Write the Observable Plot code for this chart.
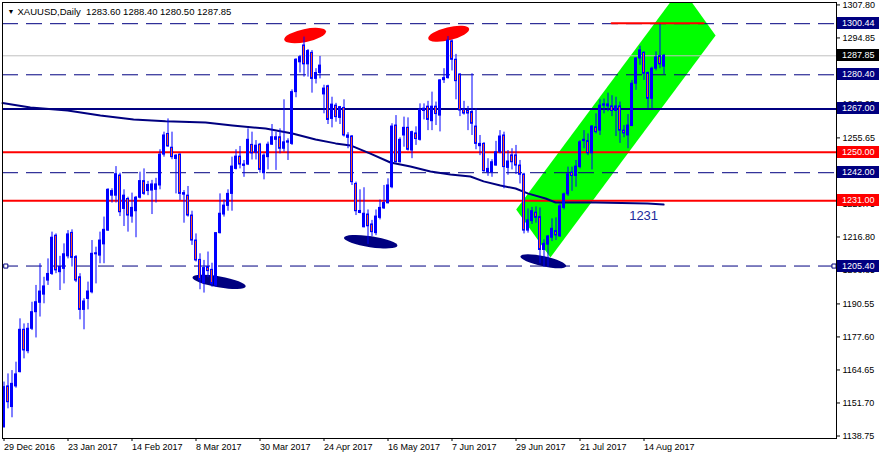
<!DOCTYPE html>
<html><head><meta charset="utf-8">
<script src="https://cdn.jsdelivr.net/npm/d3@7"></script>
<script src="https://cdn.jsdelivr.net/npm/@observablehq/plot@0.6"></script>
<style>body{margin:0;background:#fff}#chart svg{display:block}</style>
</head><body><div id="chart"></div>
<script>
// ---- Daily OHLC (bar index 0 = 29 Dec 2016) ----
const opens = [1142.2,1158.2,1150.1,1158.2,1163.8,1180.4,1172.0,1180.8,1187.3,1191.0,1194.2,1199.7,1202.3,1217.3,1203.0,1204.3,1209.2,1218.4,1208.9,1201.0,
1188.2,1192.5,1195.1,1210.0,1209.5,1213.9,1219.3,1233.0,1233.0,1240.9,1227.8,1231.7,1224.8,1226.9,1232.2,1238.7,1234.8,1235.0,1235.3,1237.0,
1249.1,1257.2,1251.8,1247.4,1249.1,1233.4,1233.0,1225.2,1215.4,1207.8,1198.7,1205.0,1203.9,1197.8,1218.3,1225.6,1229.0,1233.7,1243.5,1248.3,
1244.7,1245.2,1252.9,1249.9,1253.0,1241.8,1248.1,1253.0,1255.9,1255.9,1251.4,1253.8,1253.3,1273.6,1285.3,1291.9,1284.5,1289.0,1278.8,1281.1,
1272.7,1275.9,1263.1,1268.3,1263.5,1267.4,1255.7,1256.2,1237.6,1226.2,1220.6,1225.6,1221.7,1218.3,1224.3,1228.0,1230.0,1236.3,1260.5,1246.1,
1256.6,1259.6,1250.7,1257.4,1254.9,1266.2,1267.9,1262.2,1267.9,1264.4,1278.3,1279.1,1293.5,1286.3,1280.5,1266.7,1266.2,1265.8,1260.1,1252.4,
1253.3,1242.2,1242.2,1244.8,1250.0,1256.6,1243.9,1248.8,1248.8,1244.8,1241.3,1219.3,1223.0,1226.3,1224.6,1211.7,1213.8,1216.5,1219.1,1217.0,
1228.2,1233.5,1242.0,1240.7,1244.2,1254.4,1254.4,1249.6,1259.8,1258.5,1268.3,1268.8,1268.0,1266.2,1268.0,1258.5,1256.6,1260.3,1276.9,1286.8,
1289.0,1281.1,1271.0,1282.8,1287.7,1283.6];
const highs = [1159.9,1163.1,1164.4,1167.7,1184.7,1182.7,1182.9,1191.2,1197.8,1206.3,1201.0,1208.2,1218.7,1218.0,1209.2,1214.1,1219.3,1219.6,1209.5,1202.4,
1192.6,1199.1,1215.4,1212.8,1218.7,1224.6,1235.7,1235.7,1244.4,1241.8,1235.3,1232.4,1234.0,1232.7,1242.2,1243.5,1238.6,1239.0,1239.8,1251.0,
1257.9,1263.1,1257.9,1249.1,1249.4,1235.0,1236.6,1226.9,1218.0,1210.2,1207.6,1210.9,1206.5,1218.5,1233.7,1231.3,1235.3,1248.1,1251.0,1252.3,
1246.8,1259.2,1257.9,1254.6,1253.5,1249.4,1254.0,1260.9,1257.9,1259.2,1270.6,1255.3,1274.5,1286.7,1288.0,1295.2,1290.3,1289.9,1282.8,1287.6,
1276.3,1276.3,1271.6,1269.2,1268.0,1270.6,1257.7,1256.6,1238.3,1235.3,1236.1,1227.4,1223.3,1227.4,1231.3,1237.0,1239.6,1261.2,1264.4,1255.7,
1263.8,1263.5,1258.3,1260.0,1269.0,1269.0,1270.0,1273.6,1269.7,1278.5,1282.8,1295.4,1294.1,1288.4,1280.8,1270.0,1268.0,1280.8,1267.1,1256.6,
1253.8,1247.5,1247.1,1254.3,1258.5,1257.9,1250.7,1251.4,1252.7,1246.8,1241.8,1227.8,1228.4,1228.6,1228.2,1215.7,1217.4,1223.9,1224.3,1229.8,
1234.0,1244.2,1244.2,1246.8,1254.6,1258.5,1257.2,1260.5,1265.1,1270.6,1270.9,1273.2,1272.2,1271.6,1269.7,1260.5,1264.8,1278.2,1287.1,1291.6,
1289.4,1281.5,1283.4,1289.4,1300.1,1288.4];
const lows = [1141.8,1149.4,1145.9,1157.5,1163.5,1169.0,1171.0,1180.1,1177.2,1185.4,1190.6,1197.8,1201.7,1202.4,1195.8,1198.4,1208.2,1205.0,1198.9,1184.3,
1180.4,1188.2,1194.5,1198.4,1206.3,1206.3,1219.0,1230.1,1230.1,1224.8,1220.9,1218.7,1222.2,1216.5,1231.7,1233.1,1233.0,1225.6,1230.1,1235.3,
1248.1,1252.0,1247.1,1233.7,1231.1,1222.2,1224.6,1213.5,1207.0,1196.1,1194.8,1200.8,1197.1,1197.1,1218.0,1224.6,1226.9,1226.9,1243.1,1243.5,
1240.2,1244.8,1247.0,1247.0,1241.8,1239.2,1243.1,1252.7,1242.9,1249.4,1250.1,1246.8,1252.7,1271.4,1281.1,1279.5,1279.5,1273.2,1276.8,1278.8,
1265.1,1260.9,1259.6,1261.8,1260.9,1256.0,1251.4,1237.0,1225.2,1225.9,1220.4,1213.9,1217.0,1217.3,1223.5,1227.6,1229.8,1235.7,1245.8,1245.8,
1252.0,1250.5,1247.5,1252.7,1254.4,1262.7,1258.5,1258.5,1260.5,1258.0,1277.0,1278.7,1281.9,1270.6,1264.0,1264.6,1258.5,1256.6,1251.0,1248.7,
1242.2,1240.6,1240.2,1244.6,1249.4,1235.7,1241.0,1243.1,1241.3,1237.6,1218.0,1218.3,1221.7,1222.2,1206.3,1205.0,1205.0,1215.0,1215.4,1216.7,
1227.4,1232.7,1234.7,1236.3,1243.5,1251.4,1248.7,1243.1,1257.2,1256.6,1265.1,1265.9,1264.0,1256.2,1253.5,1255.7,1251.4,1260.1,1274.3,1284.1,
1278.2,1267.1,1267.1,1281.9,1282.8,1280.5];
const closes = [1157.9,1152.0,1159.2,1162.9,1180.4,1172.3,1180.8,1187.3,1191.2,1195.4,1197.4,1202.3,1216.5,1203.7,1205.0,1210.0,1217.8,1208.6,1199.7,1188.2,
1191.5,1195.4,1210.2,1210.4,1215.4,1219.6,1235.3,1234.8,1241.4,1226.5,1233.0,1225.2,1228.2,1232.2,1238.7,1233.7,1237.2,1237.4,1237.4,1249.1,
1256.6,1252.3,1248.1,1248.7,1233.7,1234.0,1225.2,1215.4,1207.6,1200.0,1204.6,1203.4,1198.4,1218.3,1225.9,1229.1,1233.7,1244.4,1248.3,1245.2,
1245.2,1254.9,1249.6,1252.6,1243.1,1248.7,1253.0,1255.9,1254.9,1251.4,1253.9,1254.3,1273.6,1286.3,1287.3,1284.5,1289.7,1278.8,1281.1,1284.0,
1275.0,1262.7,1268.7,1263.8,1267.7,1256.6,1256.6,1238.3,1226.9,1227.0,1225.9,1221.0,1218.7,1224.8,1228.2,1230.1,1237.0,1260.1,1246.1,1254.9,
1259.6,1251.0,1257.9,1255.2,1266.7,1267.1,1262.7,1267.9,1265.0,1278.2,1279.1,1293.8,1286.3,1277.9,1266.4,1265.2,1265.2,1261.2,1253.3,1253.3,
1242.6,1243.5,1246.1,1250.0,1256.2,1244.2,1246.4,1246.1,1244.8,1241.2,1219.3,1223.3,1226.9,1224.3,1211.7,1214.1,1217.0,1220.0,1217.4,1228.8,
1233.5,1241.4,1240.7,1244.4,1253.9,1254.9,1249.6,1260.1,1257.9,1268.3,1268.8,1268.0,1266.2,1268.0,1258.5,1257.4,1260.5,1276.9,1286.8,1290.0,
1280.8,1271.0,1282.8,1287.2,1284.5,1287.85];

// ---- date axis ----
const dateTickIdx = [0,16,32,48,64,80,96,112,128,144,160];
const dateLabels = ["29 Dec 2016","23 Jan 2017","14 Feb 2017","8 Mar 2017","30 Mar 2017","24 Apr 2017","16 May 2017","7 Jun 2017","29 Jun 2017","21 Jul 2017","14 Aug 2017"];

// ---- price axis (labels fully hidden behind price tags omitted) ----
const priceTicks = [1138.75,1151.70,1164.65,1177.60,1190.55,1203.85,1216.80,1229.75,1255.65,1268.95,1294.85,1307.80];

// ---- moving average (bar index, price) ----
const maIdx = [-0.375,6.6,15.9,24.1,32.4,40.4,50.4,57.1,65.4,72.1,77.9,82.9,86.6,91.6,96.6,101.6,106.6,111.6,116.6,119.9,124.1,127.9,131.1,135.4,137.9,147.9,160.9,164.9];
const maVal = [1269.3,1267.6,1266.4,1264.4,1262.9,1262.2,1261.7,1260.5,1259.3,1257.4,1255.0,1253.5,1252.7,1249.5,1246.0,1244.4,1242.5,1241.3,1240.5,1238.6,1237.0,1235.8,1233.8,1231.9,1230.3,1230.3,1229.9,1229.5];

// ---- horizontal levels ----
const dashedLevels = [1300.44, 1280.40, 1242.00, 1205.40];
const solidLevels = [1267.00];
const redLevels = [1250.00, 1231.00];
const bidPrice = 1287.85;
const titleSymbol = "XAUUSD,Daily";
const titleOHLC = ["1283.60","1288.40","1280.50","1287.85"];

// ---- drawn objects ----
const channelIdx = [128.05, 136.6, 177.9, 169.3, 128.05];
const channelPrice = [1227.6, 1208.75, 1295.8, 1314.6, 1227.6];
const topLineIdx = [151.9, 174.9];
const topLinePrice = [1300.6, 1300.6];
const redEllipseIdx = [75.4, 111.3];
const redEllipsePrice = [1295.6, 1296.3];
const navyEllipseIdx = [53.9, 91.8, 134.95];
const navyEllipsePrice = [1199.0, 1214.75, 1207.1];
const noteIdx = 159.9, notePrice = 1225.2, noteText = "1231";
const handleIdx = [0.45, 207.5];

// ---- build tables ----
const candles = opens.map((o, i) => ({i, o, h: highs[i], l: lows[i], c: closes[i]}));
const bulls = candles.filter(d => d.c >= d.o);
const bears = candles.filter(d => d.c < d.o);
const ma = maIdx.map((x, k) => ({x, y: maVal[k]}));
const channel = channelIdx.map((x, k) => ({x, y: channelPrice[k]}));
const topLine = topLineIdx.map((x, k) => ({x, y: topLinePrice[k]}));
const handles = handleIdx.map(x => ({x, y: 1205.40}));

const NAVY = "#000080", BLUE = "#0000ff", RED = "#ff0000", BEAR = "#ff5522";
const FONT = "'Liberation Sans', Arial, sans-serif";

function ellipses(idx, price, rx, ry, angles, color) {
  return (index, scales) => {
    const g = d3.create("svg:g");
    idx.forEach((ci, k) => {
      const cx = scales.x(ci), cy = scales.y(price[k]);
      g.append("ellipse").attr("rx", rx[k]).attr("ry", ry[k])
        .attr("transform", `translate(${cx},${cy}) rotate(${angles[k]})`)
        .attr("fill", color);
    });
    return g.node();
  };
}

const tags = [
  {v: 1300.44, bg: NAVY}, {v: bidPrice, bg: "#000000"}, {v: 1280.40, bg: NAVY},
  {v: 1267.00, bg: NAVY}, {v: 1250.00, bg: RED}, {v: 1242.00, bg: NAVY},
  {v: 1231.00, bg: RED}, {v: 1205.40, bg: NAVY}
];
function priceTags(index, scales, values, dims) {
  const g = d3.create("svg:g");
  const x0 = dims.width - dims.marginRight + 1;
  for (const t of tags) {
    const y = Math.round(scales.y(t.v));
    g.append("rect").attr("x", x0).attr("y", y - 6).attr("width", 42).attr("height", 12).attr("fill", t.bg);
    g.append("text").attr("x", x0 + 5).attr("y", y).attr("dy", "0.35em")
      .attr("text-anchor", "start")
      .attr("fill", "white").attr("font-size", 9).attr("font-family", FONT).text(t.v.toFixed(2));
  }
  return g.node();
}

const chart = Plot.plot({
  width: 879, height: 459,
  marginLeft: 2, marginTop: 2, marginRight: 43, marginBottom: 21,
  style: {fontFamily: FONT, fontSize: "9px", background: "white", color: "black"},
  x: {type: "linear", domain: [-0.375, 208.125]},
  y: {type: "linear", domain: [1137.77, 1308.75]},
  marks: [
    Plot.line(channel, {x: "x", y: "y", fill: "#00ff00", stroke: "none", clip: true, curve: "linear"}),
    Plot.ruleY([bidPrice], {stroke: "#c0c0c0", strokeWidth: 1}),
    Plot.ruleY(dashedLevels, {stroke: NAVY, strokeWidth: 1, strokeDasharray: "16,8"}),
    Plot.ruleY(solidLevels, {stroke: NAVY, strokeWidth: 2}),
    Plot.ruleY(redLevels, {stroke: RED, strokeWidth: 2}),
    Plot.line(ma, {x: "x", y: "y", stroke: NAVY, strokeWidth: 2}),
    Plot.line(topLine, {x: "x", y: "y", stroke: RED, strokeWidth: 2}),
    ellipses(redEllipseIdx, redEllipsePrice, [21.3, 21], [6.5, 6.5], [-11.7, -13.7], RED),
    ellipses(navyEllipseIdx, navyEllipsePrice, [27, 27, 23.4], [5.5, 5.5, 5], [9.9, 8.5, 12.3], NAVY),
    Plot.ruleX(candles, {x: "i", y1: "l", y2: "h", stroke: BLUE, strokeWidth: 1}),
    Plot.rect(bulls, {x1: d => d.i - 0.25, x2: d => d.i + 0.25, y1: "o", y2: "c", fill: BLUE, stroke: BLUE, strokeWidth: 1}),
    Plot.rect(bears, {x1: d => d.i - 0.25, x2: d => d.i + 0.25, y1: "o", y2: "c", fill: BEAR, stroke: BLUE, strokeWidth: 1}),
    Plot.text([noteText], {x: noteIdx, y: notePrice, text: d => d, fill: "#1c2a9a", fontSize: 13, fontFamily: FONT}),
    Plot.dot(handles, {x: "x", y: "y", symbol: "square", r: 2.3, fill: "white", stroke: NAVY, strokeWidth: 1}),
    Plot.frame({stroke: "black"}),
    Plot.axisX({ticks: dateTickIdx, tickFormat: d => dateLabels[dateTickIdx.indexOf(d)], tickSize: 3, tickPadding: 2, textAnchor: "start", label: null, fontSize: 9}),
    Plot.axisY({anchor: "right", ticks: priceTicks, tickFormat: d => d.toFixed(2), tickSize: 3, tickPadding: 3, label: null, fontSize: 9}),
    priceTags,
    Plot.text(["\u25BC"], {frameAnchor: "top-left", dx: 5, dy: 9, lineAnchor: "middle", textAnchor: "start", fontSize: 7, text: d => d}),
    Plot.text([titleSymbol + "\u00a0\u00a0" + titleOHLC.join(" ")], {frameAnchor: "top-left", dx: 15, dy: 9, lineAnchor: "middle", textAnchor: "start", fontSize: 9.5, text: d => d})
  ]
});
document.getElementById("chart").appendChild(chart);
</script>
</body></html>
